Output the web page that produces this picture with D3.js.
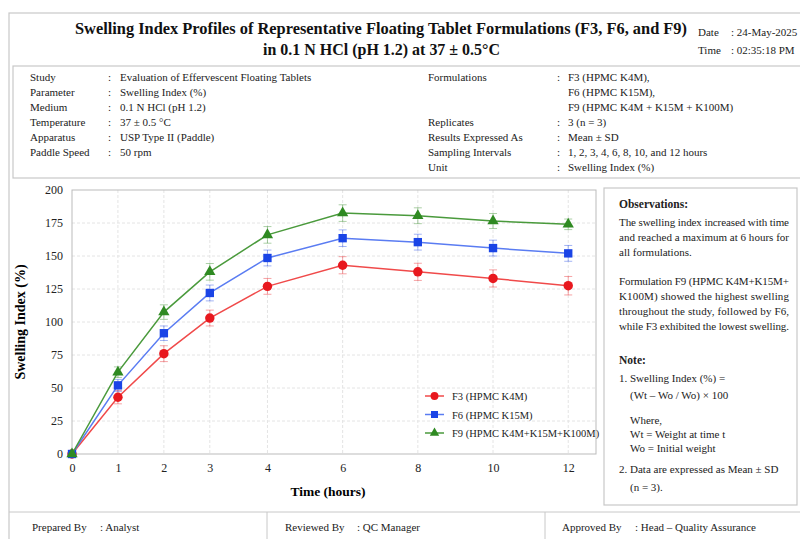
<!doctype html>
<html>
<head>
  <meta charset="utf-8">
  <style>
    body { margin:0; background:#fff; }
    svg { display:block; font-family:"Liberation Serif","Times New Roman",serif; }
    .box { fill:none; stroke:#c8c8c8; stroke-width:1.2; }
    .grid line { stroke:#e4e4e4; stroke-dasharray:3,2; }
    .axis path, .axis line { stroke:#999; }
    .axis text { font-size:12px; fill:#222; font-family:"Liberation Serif",serif; }
    .info { font-size:11px; fill:#222; }
  </style>
  <script src="https://cdn.jsdelivr.net/npm/d3@7"></script>
</head>
<body>
<script>
  // sampling times (hours) and mean swelling index (%)
  var times = [0, 1, 2, 3, 4, 6, 8, 10, 12];
  var f3Mean = [0, 43, 76, 103, 127, 143, 138, 133, 127.5];
  var f3Sd   = [0, 5, 6, 6, 6, 6.5, 6.5, 6.5, 7];
  var f6Mean = [0, 52, 91.5, 122, 148.5, 163.5, 160.5, 156, 152];
  var f6Sd   = [0, 4.5, 5.5, 6, 6, 6.3, 6, 6, 6];
  var f9Mean = [0, 62, 107.5, 138, 166, 182.5, 180.5, 176.5, 174];
  var f9Sd   = [0, 4, 5.5, 6.3, 6.3, 6.3, 6, 5.7, 4];
  var seriesNames = ["F3 (HPMC K4M)", "F6 (HPMC K15M)", "F9 (HPMC K4M+K15M+K100M)"];
  var yTicks = [0, 25, 50, 75, 100, 125, 150, 175, 200];

  var leftInfo = [
    ["Study", "Evaluation of Effervescent Floating Tablets"],
    ["Parameter", "Swelling Index (%)"],
    ["Medium", "0.1 N HCl (pH 1.2)"],
    ["Temperature", "37 ± 0.5 °C"],
    ["Apparatus", "USP Type II (Paddle)"],
    ["Paddle Speed", "50 rpm"]
  ];
  var rightInfo = [
    ["Formulations", "F3 (HPMC K4M),"],
    ["", "F6 (HPMC K15M),"],
    ["", "F9 (HPMC K4M + K15M + K100M)"],
    ["Replicates", "3 (n = 3)"],
    ["Results Expressed As", "Mean ± SD"],
    ["Sampling Intervals", "1, 2, 3, 4, 6, 8, 10, and 12 hours"],
    ["Unit", "Swelling Index (%)"]
  ];
  var footer = [["Prepared By", ": Analyst"], ["Reviewed By", ": QC Manager"], ["Approved By", ": Head – Quality Assurance"]];

  var W = 800, H = 539;
  var svg = d3.select("body").append("svg").attr("width", W).attr("height", H);

  // frames
  svg.append("rect").attr("class", "box").attr("x", 9).attr("y", 13).attr("width", W + 10).attr("height", H + 10);
  svg.append("rect").attr("class", "box").attr("x", 13).attr("y", 66).attr("width", W + 10).attr("height", 112);
  svg.append("rect").attr("class", "box").attr("x", 604).attr("y", 188).attr("width", 193).attr("height", 317);
  svg.append("line").attr("x1", 9).attr("x2", W).attr("y1", 512).attr("y2", 512).attr("stroke", "#c8c8c8");
  [267, 545].forEach(function(x) {
    svg.append("line").attr("x1", x).attr("x2", x).attr("y1", 512).attr("y2", H).attr("stroke", "#c8c8c8");
  });

  // title
  var title = svg.append("text").attr("font-weight", "bold").attr("font-size", 16).attr("fill", "#111");
  title.append("tspan").attr("x", 75).attr("y", 34).attr("textLength", 612).attr("lengthAdjust", "spacingAndGlyphs")
    .text("Swelling Index Profiles of Representative Floating Tablet Formulations (F3, F6, and F9)");
  title.append("tspan").attr("x", 263).attr("y", 55).attr("textLength", 237).attr("lengthAdjust", "spacingAndGlyphs")
    .text("in 0.1 N HCl (pH 1.2) at 37 ± 0.5°C");

  [["Date", ": 24-May-2025", 36], ["Time", ": 02:35:18 PM", 54]].forEach(function(d) {
    svg.append("text").attr("class", "info").attr("font-size", 10).attr("x", 698).attr("y", d[2]).text(d[0]);
    svg.append("text").attr("class", "info").attr("font-size", 10).attr("x", 731).attr("y", d[2]).text(d[1]);
  });

  // study info
  leftInfo.forEach(function(d, i) {
    var y = 81 + i * 15;
    svg.append("text").attr("class", "info").attr("x", 30).attr("y", y).text(d[0]);
    svg.append("text").attr("class", "info").attr("x", 108).attr("y", y).text(":");
    svg.append("text").attr("class", "info").attr("x", 120).attr("y", y).text(d[1]);
  });
  rightInfo.forEach(function(d, i) {
    var y = 81 + i * 15;
    svg.append("text").attr("class", "info").attr("x", 428).attr("y", y).text(d[0]);
    if (d[0]) svg.append("text").attr("class", "info").attr("x", 557).attr("y", y).text(":");
    svg.append("text").attr("class", "info").attr("x", 568).attr("y", y).text(d[1]);
  });

  // footer
  [[32, 100], [285, 357], [562, 635]].forEach(function(p, i) {
    svg.append("text").attr("class", "info").attr("font-size", 10).attr("x", p[0]).attr("y", 531).text(footer[i][0]);
    svg.append("text").attr("class", "info").attr("font-size", 10).attr("x", p[1]).attr("y", 531).text(footer[i][1]);
  });

  // chart
  var plot = { left: 72, right: 596, top: 190, bottom: 454 };
  var pw = plot.right - plot.left;
  var x = d3.scaleLinear()
    .domain([0, 3, 4, 12])
    .range([plot.left, plot.left + pw * 0.263, plot.left + pw * 0.373, plot.left + pw * 0.947]);
  var y = d3.scaleLinear().domain([0, 200]).range([plot.bottom, plot.top]);

  var grid = svg.append("g").attr("class", "grid");
  grid.selectAll("line.v").data(times.slice(1)).enter().append("line").attr("class", "v")
    .attr("x1", function(d) { return x(d); }).attr("x2", function(d) { return x(d); })
    .attr("y1", plot.top).attr("y2", plot.bottom);
  grid.selectAll("line.h").data(yTicks.slice(1, -1)).enter().append("line").attr("class", "h")
    .attr("x1", plot.left).attr("x2", plot.right)
    .attr("y1", function(d) { return y(d); }).attr("y2", function(d) { return y(d); });

  svg.append("rect").attr("x", plot.left).attr("y", plot.top).attr("width", pw).attr("height", plot.bottom - plot.top)
    .attr("fill", "none").attr("stroke", "#bbb");

  var xAxis = svg.append("g").attr("class", "axis").attr("transform", "translate(0," + plot.bottom + ")")
    .call(d3.axisBottom(x).tickValues(times).tickSize(0).tickPadding(9));
  xAxis.select(".domain").remove();
  var yAxis = svg.append("g").attr("class", "axis").attr("transform", "translate(" + plot.left + ",0)")
    .call(d3.axisLeft(y).tickValues(yTicks).tickSize(0).tickPadding(9));
  yAxis.select(".domain").remove();

  svg.append("text").attr("x", 328).attr("y", 496).attr("text-anchor", "middle")
    .attr("font-weight", "bold").attr("font-size", 13.5).text("Time (hours)");
  svg.append("text").attr("transform", "translate(25," + (plot.top + plot.bottom) / 2 + ") rotate(-90)")
    .attr("text-anchor", "middle").attr("font-weight", "bold").attr("font-size", 14).text("Swelling Index (%)");

  var series = [
    { name: seriesNames[0], mean: f3Mean, sd: f3Sd, color: "#e8181e", line: "#f04a4a", shape: d3.symbolCircle, size: 70 },
    { name: seriesNames[1], mean: f6Mean, sd: f6Sd, color: "#1a44e6", line: "#5a7cf2", shape: d3.symbolSquare, size: 70 },
    { name: seriesNames[2], mean: f9Mean, sd: f9Sd, color: "#2f8a22", line: "#4a9a3c", shape: d3.symbolTriangle, size: 55 }
  ];

  var lineGen = d3.line().x(function(d) { return x(d.t); }).y(function(d) { return y(d.v); });

  series.forEach(function(s) {
    var pts = times.map(function(t, i) { return { t: t, v: s.mean[i], sd: s.sd[i] }; });
    var g = svg.append("g");
    // error bars
    var eb = g.selectAll("g.eb").data(pts.filter(function(d) { return d.sd > 0; })).enter().append("g")
      .attr("stroke", s.color).attr("stroke-opacity", 0.4).attr("stroke-width", 1);
    eb.append("line").attr("x1", function(d) { return x(d.t); }).attr("x2", function(d) { return x(d.t); })
      .attr("y1", function(d) { return y(d.v - d.sd); }).attr("y2", function(d) { return y(d.v + d.sd); });
    eb.append("line").attr("x1", function(d) { return x(d.t) - 4; }).attr("x2", function(d) { return x(d.t) + 4; })
      .attr("y1", function(d) { return y(d.v + d.sd); }).attr("y2", function(d) { return y(d.v + d.sd); });
    eb.append("line").attr("x1", function(d) { return x(d.t) - 4; }).attr("x2", function(d) { return x(d.t) + 4; })
      .attr("y1", function(d) { return y(d.v - d.sd); }).attr("y2", function(d) { return y(d.v - d.sd); });
    g.append("path").datum(pts).attr("d", lineGen).attr("fill", "none").attr("stroke", s.line).attr("stroke-width", 1.5);
    g.selectAll("path.m").data(pts).enter().append("path").attr("class", "m")
      .attr("transform", function(d) { return "translate(" + x(d.t) + "," + y(d.v) + ")"; })
      .attr("d", d3.symbol().type(s.shape).size(s.size)).attr("fill", s.color);
  });

  // legend
  var legend = svg.append("g").attr("transform", "translate(425,396)");
  series.forEach(function(s, i) {
    var row = legend.append("g").attr("transform", "translate(0," + i * 18.5 + ")");
    row.append("line").attr("x1", 0).attr("x2", 19).attr("stroke", s.line).attr("stroke-width", 1.5);
    row.append("path").attr("transform", "translate(9.5,0)").attr("d", d3.symbol().type(s.shape).size(s.size * 0.7)).attr("fill", s.color);
    row.append("text").attr("x", 27).attr("y", 4).attr("font-size", 10.5).attr("fill", "#222").text(s.name);
  });

  // observations panel
  var obs = svg.append("g").attr("class", "info");
  obs.append("text").attr("x", 619).attr("y", 208).attr("font-weight", "bold").attr("font-size", 11.5).text("Observations:");
  var para1 = ["The swelling index increased with time", "and reached a maximum at 6 hours for", "all formulations."];
  var para2 = ["Formulation F9 (HPMC K4M+K15M+", "K100M) showed the highest swelling", "throughout the study, followed by F6,", "while F3 exhibited the lowest swelling."];
  function para(lines, y0, justifyLast) {
    lines.forEach(function(t, i) {
      var tx = obs.append("text").attr("x", 619).attr("y", y0 + i * 15).attr("font-size", 11).text(t);
      if (i < lines.length - 1 || justifyLast) tx.attr("textLength", 170).attr("lengthAdjust", "spacing");
    });
  }
  para(para1, 226, false);
  para(para2, 285, true);
  obs.append("text").attr("x", 619).attr("y", 364).attr("font-weight", "bold").attr("font-size", 11.5).text("Note:");
  var notes = [
    [619, 382, "1.  Swelling Index (%) ="],
    [630, 399, "(Wt – Wo / Wo) × 100"],
    [630, 424, "Where,"],
    [630, 438, "Wt = Weight at time t"],
    [630, 452, "Wo = Initial weight"],
    [619, 473, "2.  Data are expressed as Mean ± SD"],
    [630, 491, "(n = 3)."]
  ];
  notes.forEach(function(n) {
    obs.append("text").attr("x", n[0]).attr("y", n[1]).attr("font-size", 11).text(n[2]);
  });
</script>
</body>
</html>
